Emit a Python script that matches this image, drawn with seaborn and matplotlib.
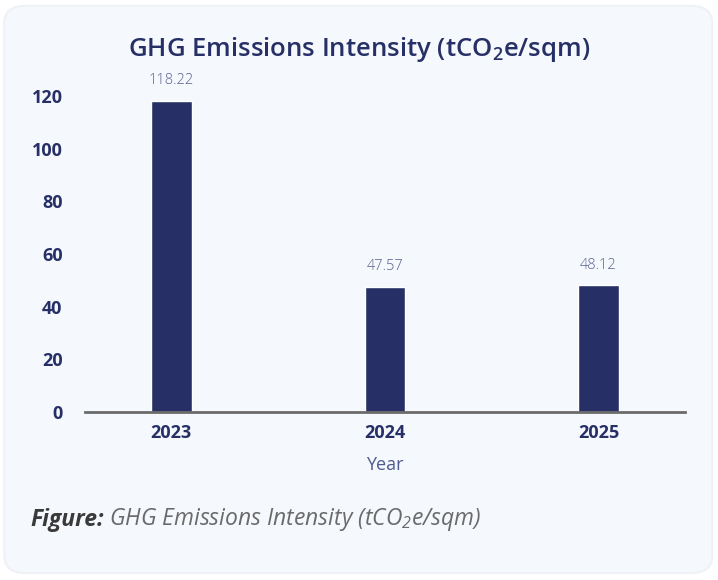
import matplotlib
matplotlib.use("Agg")
import matplotlib.pyplot as plt
from matplotlib.patches import FancyBboxPatch
import seaborn as sns
import pandas as pd

years = ["2023", "2024", "2025"]
intensity = [118.22, 47.57, 48.12]
yticks = [0, 20, 40, 60, 80, 100, 120]

navy = "#263066"
card_bg = "#f5f8fc"

sns.set_style("white")
plt.rcParams["font.family"] = ["Open Sans", "DejaVu Sans"]
plt.rcParams["mathtext.default"] = "regular"

df = pd.DataFrame({"Year": years, "Intensity": intensity})

fig = plt.figure(figsize=(7.18, 5.8), dpi=100, facecolor="white")
card = FancyBboxPatch((0.006, 0.012), 0.986, 0.978, boxstyle="round,pad=0,rounding_size=0.03",
                      transform=fig.transFigure, facecolor=card_bg, edgecolor="#eef1f5",
                      linewidth=1.5, zorder=-1)
fig.patches.append(card)

ax = fig.add_axes([0.118, 0.29, 0.836, 0.59])
ax.set_facecolor("none")
sns.barplot(data=df, x="Year", y="Intensity", color=navy, width=0.19, ax=ax, saturation=1)
for p, v in zip(ax.patches, intensity):
    ax.annotate(f"{v:.2f}", (p.get_x() + p.get_width() / 2, v), xytext=(0, 9),
                textcoords="offset points", ha="center", va="bottom",
                fontsize=10.5, color="#59618f", fontweight="light")

ax.set_xlim(-0.405, 2.405)
ax.set_ylim(0, 130)
ax.set_yticks(yticks)
ax.set_yticklabels([str(t) for t in yticks], fontsize=13, fontweight="bold", color=navy)
ax.set_xticks(range(len(years)))
ax.set_xticklabels(years, fontsize=13, fontweight="bold", color=navy)
ax.tick_params(axis="both", length=0)
ax.tick_params(axis="y", pad=16)
ax.tick_params(axis="x", pad=9)
ax.set_xlabel("Year", fontsize=13, color="#4d5a8f", labelpad=10)
ax.set_ylabel("")
for s in ["top", "right", "left"]:
    ax.spines[s].set_visible(False)
ax.spines["bottom"].set_color("#6b6b6b")
ax.spines["bottom"].set_linewidth(2)

fig.text(0.5, 0.915, "GHG Emissions Intensity (tCO$_2$e/sqm)", ha="center", va="center",
         fontsize=18.5, fontweight="semibold", color=navy)
t1 = fig.text(0.042, 0.104, "Figure:", ha="left", va="center", fontsize=16.5,
              fontweight="bold", fontstyle="italic", color="#3a3a3a")
fig.canvas.draw()
bb = t1.get_window_extent().transformed(fig.transFigure.inverted())
fig.text(bb.x1 + 0.008, 0.104, "GHG Emissions Intensity (tCO$_2$e/sqm)", ha="left", va="center",
         fontsize=16.5, fontstyle="italic", color="#6a6a6a")

fig.savefig("out.png", dpi=100, facecolor=fig.get_facecolor())
